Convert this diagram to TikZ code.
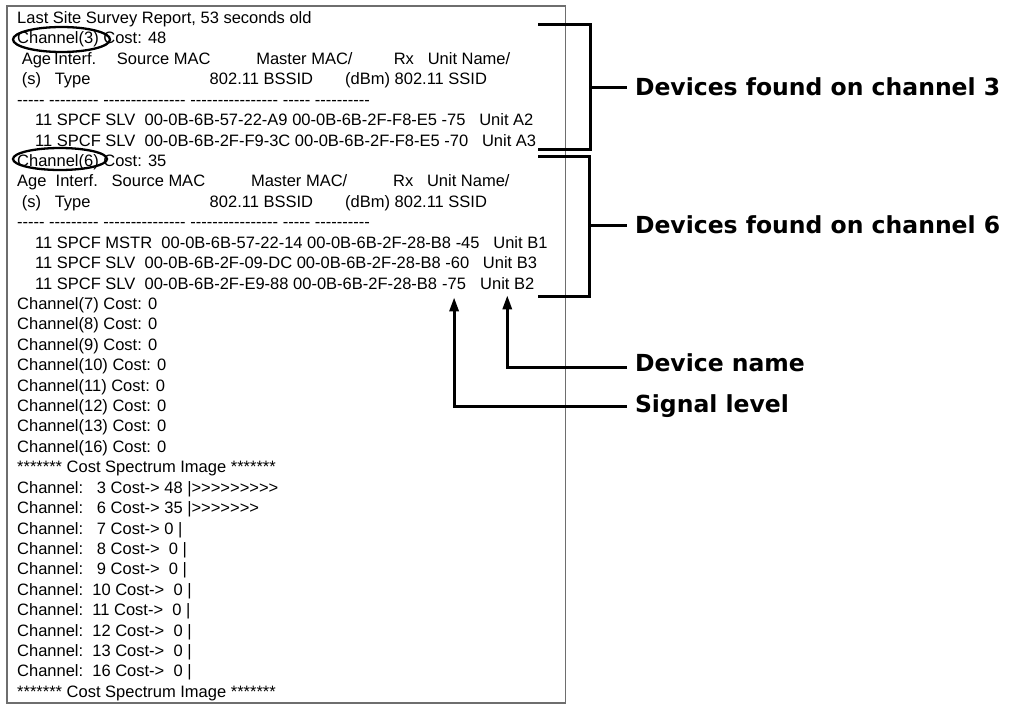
\documentclass[tikz,border=0pt]{standalone}
\usepackage{fontspec}
\usetikzlibrary{arrows.meta}
\newfontfamily\screenfont{Liberation Sans}[Ligatures=TeXOff]
\newfontfamily\notefont{DejaVu Sans}
\definecolor{framegray}{RGB}{110,110,110}
\newcommand\blanks[1]{\hspace{#1\fontdimen2\font}}

\begin{document}
\begin{tikzpicture}[x=1pt, y=-1pt, >={Stealth[inset=0pt, length=14pt, width=9pt]},
    rep/.style={anchor=base west, inner sep=0pt, font=\screenfont\fontsize{16.5}{20}\selectfont},
    note/.style={anchor=west, inner sep=0pt, outer sep=8pt, font=\notefont\bfseries\fontsize{23.5}{28}\selectfont},
    bar/.style={line width=3pt},
    ring/.style={line width=2.3pt}]

    \useasboundingbox (0,0) rectangle (1010,704);
    \fill[white] (0,0) rectangle (1010,704);
    \draw[framegray, line width=1.6pt] (7,6) rectangle (565.5,703);

    \node[rep] (title) at (17,23.5) {Last Site Survey Report, 53 seconds old};
    \node[rep] (ch3) at (17,43.9) {Channel(3) Cost: 48};
    \node[rep] (ch3head) at (17,64.3) {\blanks{1}Age\hspace{3pt}Interf.\blanks{4.5}Source MAC\blanks{10}Master MAC/\blanks{9}Rx\blanks{3}Unit Name/};
    \node[rep] (ch3sub) at (17,84.8) {\blanks{1}(s)\blanks{3}Type\blanks{26}802.11 BSSID\blanks{7}(dBm) 802.11 SSID};
    \node[rep] (ch3rule) at (17,105.2) {----- --------- --------------- ---------------- ----- ----------};
    \node[rep] (a2) at (35,125.6) {11 SPCF SLV\blanks{2}00-0B-6B-57-22-A9 00-0B-6B-2F-F8-E5 -75\blanks{3}Unit A2};
    \node[rep] (a3) at (35,146.0) {11 SPCF SLV\blanks{2}00-0B-6B-2F-F9-3C 00-0B-6B-2F-F8-E5 -70\blanks{3}Unit A3};

    \node[rep] (ch6) at (17,166.4) {Channel(6) Cost: 35};
    \node[rep] (ch6head) at (17,186.9) {Age\blanks{2}Interf.\blanks{3}Source MAC\blanks{10}Master MAC/\blanks{10}Rx\blanks{3}Unit Name/};
    \node[rep] (ch6sub) at (17,207.3) {\blanks{1}(s)\blanks{3}Type\blanks{26}802.11 BSSID\blanks{7}(dBm) 802.11 SSID};
    \node[rep] (ch6rule) at (17,227.7) {----- --------- --------------- ---------------- ----- ----------};
    \node[rep] (b1) at (35,248.1) {11 SPCF MSTR\blanks{2}00-0B-6B-57-22-14 00-0B-6B-2F-28-B8 -45\blanks{3}Unit B1};
    \node[rep] (b3) at (35,268.5) {11 SPCF SLV\blanks{2}00-0B-6B-2F-09-DC 00-0B-6B-2F-28-B8 -60\blanks{3}Unit B3};
    \node[rep] (b2) at (35,289.0) {11 SPCF SLV\blanks{2}00-0B-6B-2F-E9-88 00-0B-6B-2F-28-B8};
    \node[rep] (b2rx) at ([xshift=4.6pt]b2.base east) {-75};
    \node[rep] (b2unit) at ([xshift=13.8pt]b2rx.base east) {Unit B2};

    \node[rep] (ch7) at (17,309.4) {Channel(7) Cost: 0};
    \node[rep] (ch8) at (17,329.8) {Channel(8) Cost: 0};
    \node[rep] (ch9) at (17,350.2) {Channel(9) Cost: 0};
    \node[rep] (ch10) at (17,370.6) {Channel(10) Cost: 0};
    \node[rep] (ch11) at (17,391.1) {Channel(11) Cost: 0};
    \node[rep] (ch12) at (17,411.5) {Channel(12) Cost: 0};
    \node[rep] (ch13) at (17,431.9) {Channel(13) Cost: 0};
    \node[rep] (ch16) at (17,452.3) {Channel(16) Cost: 0};

    \node[rep] (specA) at (17,472.7) {******* Cost Spectrum Image *******};
    \node[rep] (sp3) at (17,493.2) {Channel:\blanks{3}3 Cost-> 48 |>>>>>>>>>};
    \node[rep] (sp6) at (17,513.6) {Channel:\blanks{3}6 Cost-> 35 |>>>>>>>};
    \node[rep] (sp7) at (17,534.0) {Channel:\blanks{3}7 Cost-> 0 |};
    \node[rep] (sp8) at (17,554.4) {Channel:\blanks{3}8 Cost->\blanks{2}0 |};
    \node[rep] (sp9) at (17,574.8) {Channel:\blanks{3}9 Cost->\blanks{2}0 |};
    \node[rep] (sp10) at (17,595.3) {Channel:\blanks{2}10 Cost->\blanks{2}0 |};
    \node[rep] (sp11) at (17,615.7) {Channel:\blanks{2}11 Cost->\blanks{2}0 |};
    \node[rep] (sp12) at (17,636.1) {Channel:\blanks{2}12 Cost->\blanks{2}0 |};
    \node[rep] (sp13) at (17,656.5) {Channel:\blanks{2}13 Cost->\blanks{2}0 |};
    \node[rep] (sp16) at (17,676.9) {Channel:\blanks{2}16 Cost->\blanks{2}0 |};
    \node[rep] (specB) at (17,697.4) {******* Cost Spectrum Image *******};

    \draw[ring] (61.5,39.5) ellipse (48.5pt and 12.5pt);
    \draw[ring] (60,159) ellipse (47pt and 11pt);

    \draw[bar] (538,24) -- (590,24) -- (590,149) -- (538,149);
    \draw[bar] (538,156) -- (589,156) -- (589,296) -- (538,296);

    \node[note] (dev3) at (627,87) {Devices found on channel 3};
    \node[note] (dev6) at (627,225) {Devices found on channel 6};
    \node[note] (devname) at (627,363) {Device name};
    \node[note] (siglevel) at (627,406) {Signal level};

    \draw[bar] (590,87) -- (dev3.west);
    \draw[bar] (589,225) -- (dev6.west);
    \draw[bar, ->] ([yshift=-4pt]devname.west) -| ([yshift=-6pt]b2unit.south);
    \draw[bar, ->] (siglevel.west) -| ([yshift=-8pt]b2rx.south);
\end{tikzpicture}
\end{document}
